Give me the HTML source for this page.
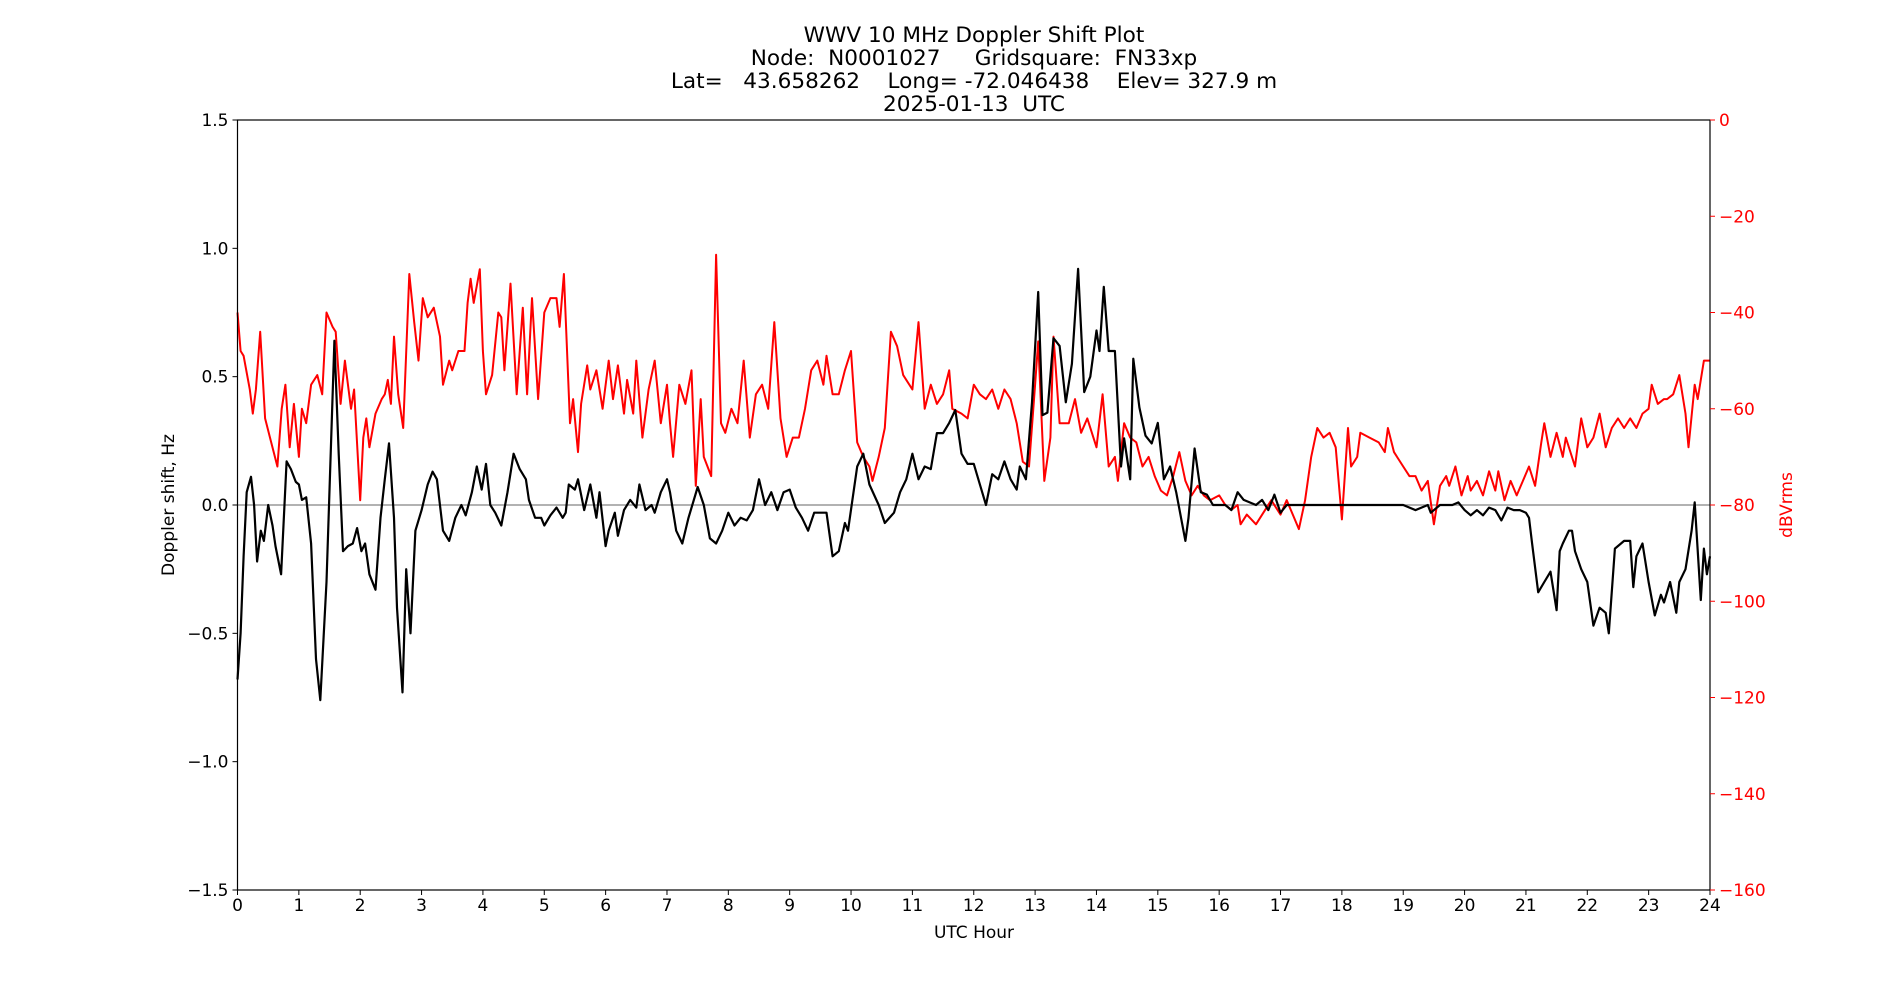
<!DOCTYPE html>
<html><head><meta charset="utf-8"><style>
html,body{margin:0;padding:0;background:#fff;}
svg{display:block;font-family:"DejaVu Sans","Liberation Sans",sans-serif;}
</style></head><body>
<svg id="chart" width="1900" height="1000" viewBox="0 0 1900 1000" xmlns="http://www.w3.org/2000/svg">
<g font-size="21.6" text-anchor="middle" fill="#000">
<text x="974" y="42">WWV 10 MHz Doppler Shift Plot</text>
<text x="974" y="65" xml:space="preserve">Node:  N0001027     Gridsquare:  FN33xp</text>
<text x="974" y="88" xml:space="preserve">Lat=   43.658262    Long= -72.046438    Elev= 327.9 m</text>
<text x="974" y="111" xml:space="preserve">2025-01-13  UTC</text>
</g>
<g id="plot"></g>
<text x="974" y="938" font-size="17" text-anchor="middle">UTC Hour</text>
<text transform="translate(174,505) rotate(-90)" font-size="17" text-anchor="middle">Doppler shift, Hz</text>
<text transform="translate(1792,505) rotate(-90)" font-size="17" text-anchor="middle" fill="red">dBVrms</text>
</svg>
<script>
const dopHours=[0,0.05,0.1,0.15,0.22,0.27,0.32,0.38,0.43,0.5,0.57,0.62,0.71,0.8,0.87,0.95,1.0,1.05,1.12,1.2,1.28,1.35,1.45,1.58,1.65,1.72,1.8,1.88,1.95,2.02,2.08,2.15,2.25,2.33,2.4,2.47,2.55,2.6,2.69,2.75,2.82,2.9,3.0,3.1,3.18,3.25,3.35,3.45,3.55,3.65,3.72,3.82,3.9,3.98,4.05,4.12,4.2,4.3,4.4,4.5,4.6,4.7,4.75,4.85,4.95,5.0,5.1,5.2,5.3,5.35,5.4,5.5,5.55,5.65,5.75,5.85,5.9,6.0,6.05,6.15,6.2,6.3,6.4,6.5,6.55,6.65,6.75,6.8,6.9,7.0,7.05,7.15,7.25,7.35,7.5,7.6,7.7,7.8,7.9,8.0,8.1,8.2,8.3,8.4,8.5,8.6,8.7,8.8,8.9,9.0,9.1,9.2,9.3,9.4,9.5,9.6,9.7,9.8,9.9,9.95,10.1,10.2,10.3,10.45,10.55,10.7,10.8,10.9,11.0,11.1,11.2,11.3,11.4,11.5,11.6,11.7,11.8,11.9,12.0,12.1,12.2,12.3,12.4,12.5,12.6,12.7,12.75,12.85,12.95,13.05,13.12,13.2,13.3,13.4,13.5,13.6,13.7,13.8,13.9,14.0,14.05,14.12,14.2,14.3,14.4,14.45,14.55,14.6,14.7,14.8,14.9,15.0,15.1,15.2,15.3,15.45,15.5,15.6,15.7,15.8,15.9,16.0,16.1,16.2,16.3,16.4,16.6,16.7,16.8,16.9,17.0,17.1,17.5,19.0,19.2,19.4,19.45,19.6,19.8,19.9,20.0,20.1,20.2,20.3,20.4,20.5,20.6,20.7,20.8,20.9,21.0,21.05,21.1,21.2,21.3,21.4,21.5,21.55,21.6,21.7,21.75,21.8,21.9,22.0,22.1,22.2,22.3,22.35,22.45,22.6,22.7,22.75,22.8,22.9,23.0,23.1,23.2,23.25,23.35,23.45,23.5,23.6,23.7,23.75,23.85,23.9,23.95,24.0];
const dopValues=[-0.68,-0.5,-0.2,0.05,0.11,0.0,-0.22,-0.1,-0.14,0.0,-0.08,-0.16,-0.27,0.17,0.14,0.09,0.08,0.02,0.03,-0.15,-0.6,-0.76,-0.3,0.64,0.2,-0.18,-0.16,-0.15,-0.09,-0.18,-0.15,-0.27,-0.33,-0.05,0.1,0.24,-0.05,-0.4,-0.73,-0.25,-0.5,-0.1,-0.02,0.08,0.13,0.1,-0.1,-0.14,-0.05,0.0,-0.04,0.05,0.15,0.06,0.16,0.0,-0.03,-0.08,0.05,0.2,0.14,0.1,0.02,-0.05,-0.05,-0.08,-0.04,-0.01,-0.05,-0.03,0.08,0.06,0.1,-0.02,0.08,-0.05,0.05,-0.16,-0.1,-0.03,-0.12,-0.02,0.02,-0.01,0.08,-0.02,0.0,-0.03,0.05,0.1,0.05,-0.1,-0.15,-0.05,0.07,0.0,-0.13,-0.15,-0.1,-0.03,-0.08,-0.05,-0.06,-0.02,0.1,0.0,0.05,-0.02,0.05,0.06,-0.01,-0.05,-0.1,-0.03,-0.03,-0.03,-0.2,-0.18,-0.07,-0.1,0.15,0.2,0.08,0.0,-0.07,-0.03,0.05,0.1,0.2,0.1,0.15,0.14,0.28,0.28,0.32,0.37,0.2,0.16,0.16,0.08,0.0,0.12,0.1,0.17,0.1,0.06,0.15,0.1,0.4,0.83,0.35,0.36,0.65,0.62,0.4,0.55,0.92,0.44,0.5,0.68,0.6,0.85,0.6,0.6,0.15,0.26,0.1,0.57,0.38,0.27,0.24,0.32,0.1,0.15,0.05,-0.14,-0.05,0.22,0.05,0.04,0.0,0.0,0.0,-0.02,0.05,0.02,0.0,0.02,-0.02,0.04,-0.03,0.0,0.0,0.0,-0.02,0.0,-0.03,0.0,0.0,0.01,-0.02,-0.04,-0.02,-0.04,-0.01,-0.02,-0.06,-0.01,-0.02,-0.02,-0.03,-0.05,-0.15,-0.34,-0.3,-0.26,-0.41,-0.18,-0.15,-0.1,-0.1,-0.18,-0.25,-0.3,-0.47,-0.4,-0.42,-0.5,-0.17,-0.14,-0.14,-0.32,-0.2,-0.15,-0.3,-0.43,-0.35,-0.38,-0.3,-0.42,-0.3,-0.25,-0.1,0.01,-0.37,-0.17,-0.27,-0.2];
const pwrHours=[0,0.05,0.1,0.2,0.25,0.3,0.37,0.45,0.55,0.65,0.72,0.78,0.85,0.92,1.0,1.05,1.12,1.2,1.3,1.38,1.45,1.55,1.6,1.68,1.75,1.85,1.9,2.0,2.05,2.1,2.15,2.25,2.35,2.4,2.45,2.5,2.55,2.62,2.7,2.8,2.88,2.95,3.02,3.1,3.2,3.3,3.35,3.45,3.5,3.6,3.7,3.75,3.8,3.85,3.95,4.0,4.05,4.15,4.25,4.3,4.35,4.45,4.55,4.65,4.72,4.8,4.9,5.0,5.1,5.2,5.25,5.32,5.42,5.47,5.55,5.6,5.7,5.75,5.85,5.95,6.05,6.12,6.2,6.3,6.35,6.45,6.5,6.6,6.7,6.8,6.9,7.0,7.05,7.1,7.2,7.3,7.4,7.47,7.55,7.6,7.72,7.8,7.88,7.95,8.05,8.15,8.25,8.35,8.45,8.55,8.65,8.75,8.85,8.95,9.05,9.15,9.25,9.35,9.45,9.55,9.6,9.7,9.8,9.9,10.0,10.1,10.2,10.3,10.35,10.45,10.55,10.65,10.75,10.85,11.0,11.1,11.2,11.3,11.4,11.5,11.6,11.65,11.8,11.9,12.0,12.1,12.2,12.3,12.4,12.5,12.6,12.7,12.8,12.9,13.0,13.05,13.15,13.25,13.3,13.4,13.55,13.65,13.75,13.85,13.95,14.0,14.1,14.2,14.3,14.35,14.45,14.55,14.65,14.75,14.85,14.95,15.05,15.15,15.25,15.35,15.45,15.55,15.65,15.75,15.85,16.0,16.1,16.2,16.3,16.35,16.45,16.6,16.75,16.85,17.0,17.1,17.2,17.3,17.4,17.5,17.6,17.7,17.8,17.9,18.0,18.1,18.15,18.25,18.3,18.45,18.6,18.7,18.75,18.85,19.0,19.1,19.2,19.3,19.4,19.5,19.6,19.7,19.75,19.85,19.95,20.05,20.1,20.2,20.3,20.4,20.5,20.55,20.65,20.75,20.85,20.95,21.05,21.15,21.25,21.3,21.4,21.5,21.6,21.65,21.8,21.9,22.0,22.1,22.2,22.3,22.4,22.5,22.6,22.7,22.8,22.9,23.0,23.05,23.15,23.25,23.3,23.4,23.5,23.6,23.65,23.75,23.8,23.9,24.0];
const pwrValues=[-40,-48,-49,-56,-61,-56,-44,-62,-67,-72,-60,-55,-68,-59,-70,-60,-63,-55,-53,-57,-40,-43,-44,-59,-50,-60,-56,-79,-66,-62,-68,-61,-58,-57,-54,-59,-45,-57,-64,-32,-42,-50,-37,-41,-39,-45,-55,-50,-52,-48,-48,-38,-33,-38,-31,-48,-57,-53,-40,-41,-52,-34,-57,-39,-57,-37,-58,-40,-37,-37,-43,-32,-63,-58,-69,-59,-51,-56,-52,-60,-50,-58,-51,-61,-54,-61,-50,-66,-56,-50,-63,-55,-63,-70,-55,-59,-52,-76,-58,-70,-74,-28,-63,-65,-60,-63,-50,-66,-57,-55,-60,-42,-62,-70,-66,-66,-60,-52,-50,-55,-49,-57,-57,-52,-48,-67,-70,-72,-75,-70,-64,-44,-47,-53,-56,-42,-60,-55,-59,-57,-52,-60,-61,-62,-55,-57,-58,-56,-60,-56,-58,-63,-71,-72,-55,-46,-75,-66,-45,-63,-63,-58,-65,-62,-66,-68,-57,-72,-70,-75,-63,-66,-67,-72,-70,-74,-77,-78,-74,-69,-75,-78,-76,-78,-79,-78,-80,-81,-80,-84,-82,-84,-81,-79,-82,-79,-82,-85,-79,-70,-64,-66,-65,-68,-83,-64,-72,-70,-65,-66,-67,-69,-64,-69,-72,-74,-74,-77,-75,-84,-76,-74,-76,-72,-78,-74,-77,-75,-78,-73,-77,-73,-79,-75,-78,-75,-72,-76,-67,-63,-70,-65,-70,-66,-72,-62,-68,-66,-61,-68,-64,-62,-64,-62,-64,-61,-60,-55,-59,-58,-58,-57,-53,-61,-68,-55,-58,-50,-50];
const xTicks=[0,1,2,3,4,5,6,7,8,9,10,11,12,13,14,15,16,17,18,19,20,21,22,23,24];
const yTicks=[-1.5,-1.0,-0.5,0.0,0.5,1.0,1.5];
const y2Ticks=[0,-20,-40,-60,-80,-100,-120,-140,-160];

const L=237.5,R=1710,T=120,B=890;
const sx=h=>L+(h/24)*(R-L);
const sy=v=>T+(1.5-v)/3*(B-T);
const sy2=v=>T+(0-v)/160*(B-T);
const NS='http://www.w3.org/2000/svg';
const plot=document.getElementById('plot');
function mk(tag,attrs,parent){const e=document.createElementNS(NS,tag);for(const k in attrs)e.setAttribute(k,attrs[k]);(parent||plot).appendChild(e);return e;}

const zl=mk('line',{x1:L,x2:R,y1:sy(0),y2:sy(0),stroke:'#999','stroke-width':1.5});



let d='';pwrHours.forEach((h,i)=>{d+=(i?'L':'M')+sx(h).toFixed(1)+','+sy2(pwrValues[i]).toFixed(1);});
const pr=mk('path',{d:d,fill:'none',stroke:'red','stroke-width':2,'stroke-linejoin':'round'});



d='';dopHours.forEach((h,i)=>{d+=(i?'L':'M')+sx(h).toFixed(1)+','+sy(dopValues[i]).toFixed(1);});
const dl=mk('path',{d:d,fill:'none',stroke:'#000','stroke-width':2.2,'stroke-linejoin':'round'});



const fr=mk('rect',{x:L,y:T,width:R-L,height:B-T,fill:'none',stroke:'#000','stroke-width':1.2});



xTicks.forEach(t=>{
  const x=sx(t);
  const tk=mk('line',{x1:x,x2:x,y1:B,y2:B+5,stroke:'#000','stroke-width':1});
  
  
  const tx=mk('text',{x:x,y:B+21,'font-size':17,'text-anchor':'middle'});
  tx.textContent=t;
  
  
});
yTicks.forEach(t=>{
  const y=sy(t);
  const tk=mk('line',{x1:L-5,x2:L,y1:y,y2:y,stroke:'#000','stroke-width':1});
  
  
  const tx=mk('text',{x:L-9,y:y+6,'font-size':17,'text-anchor':'end'});
  tx.textContent=(t<0?'\u2212':'')+Math.abs(t).toFixed(1);
  
  
});
y2Ticks.forEach(t=>{
  const y=sy2(t);
  const tk=mk('line',{x1:R,x2:R+5,y1:y,y2:y,stroke:'red','stroke-width':1});
  
  
  const tx=mk('text',{x:R+9,y:y+6,'font-size':17,'text-anchor':'start',fill:'red'});
  tx.textContent=(t<0?'\u2212':'')+Math.abs(t);
  
  
});
</script>
</body></html>
